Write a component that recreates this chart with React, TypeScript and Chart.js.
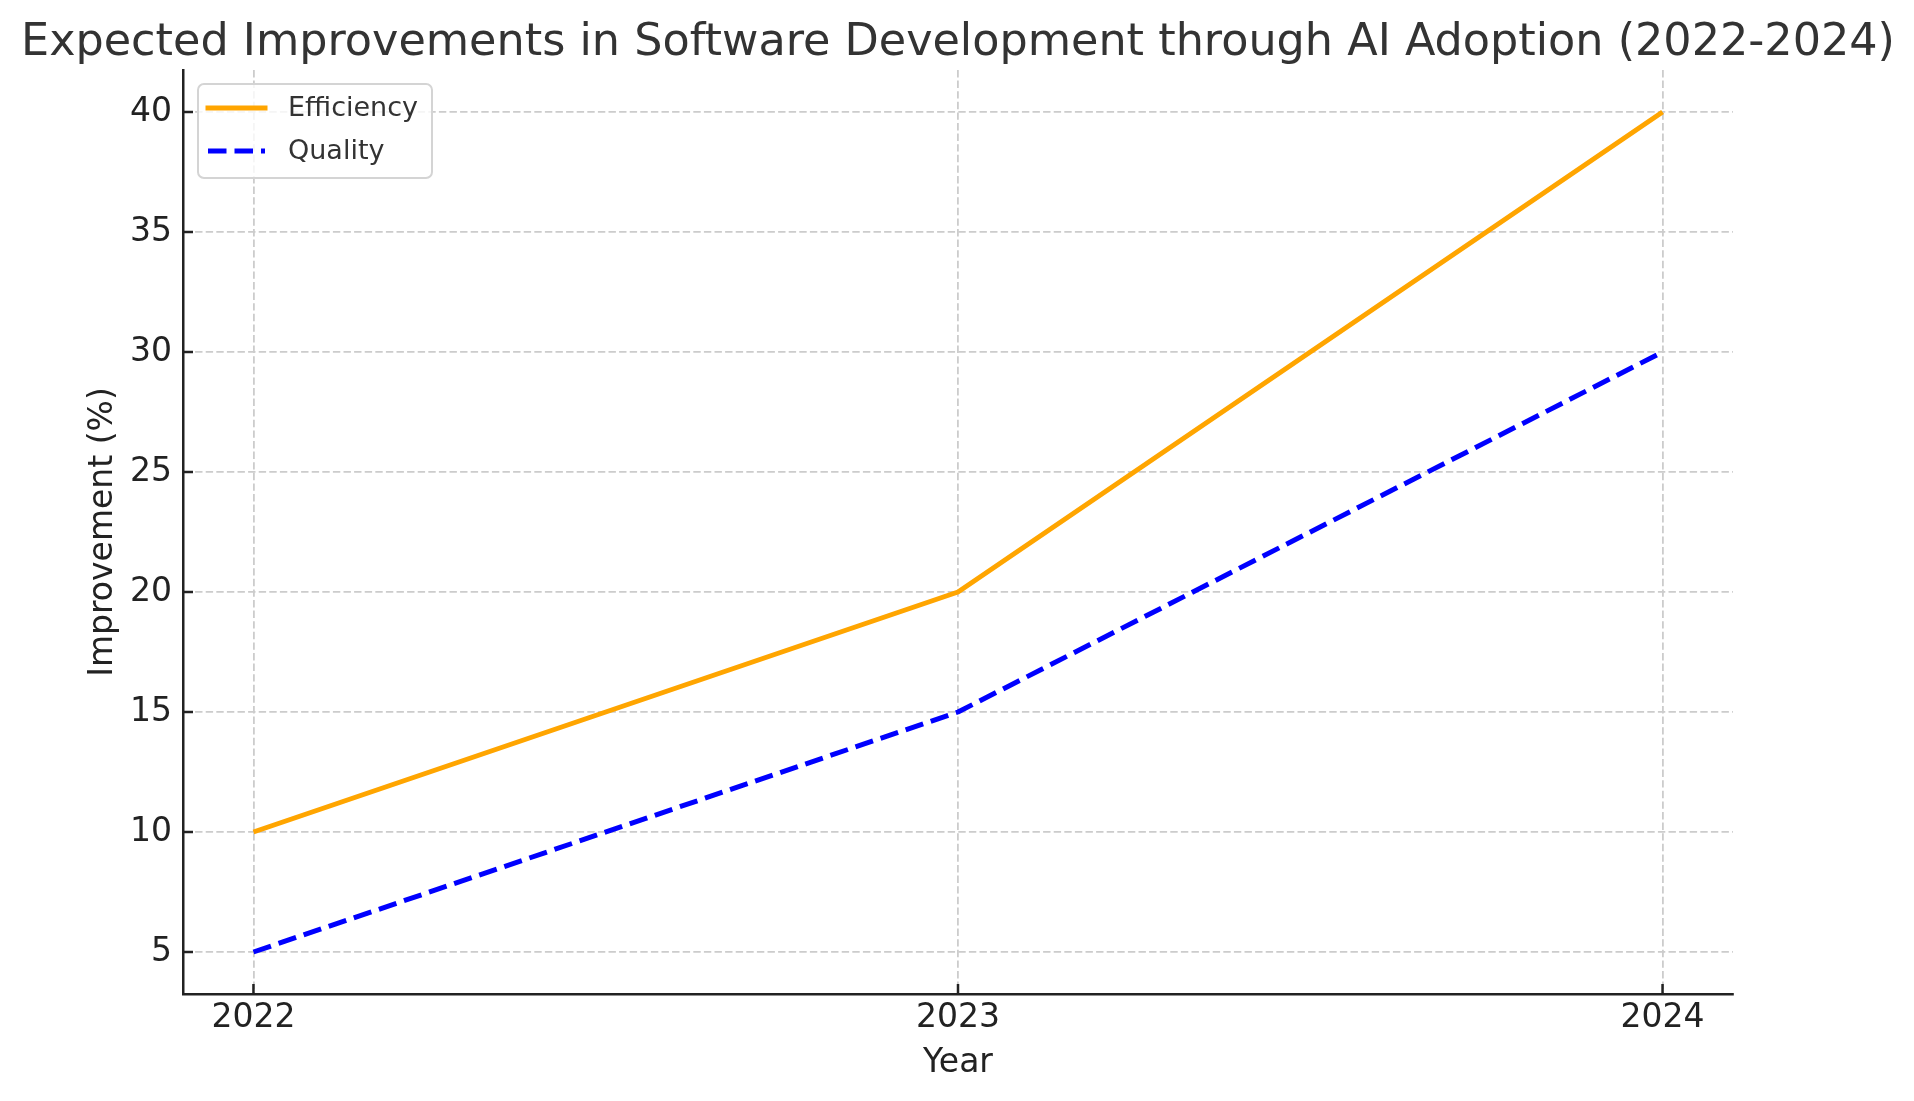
import React, { useEffect, useRef } from "react";
import { Chart, registerables } from "chart.js";

Chart.register(...registerables);

const TITLE = "Expected Improvements in Software Development through AI Adoption (2022-2024)";
const YEARS = [2022, 2023, 2024];
const EFFICIENCY = [10, 20, 40];
const QUALITY = [5, 15, 30];
const Y_TICKS = [5, 10, 15, 20, 25, 30, 35, 40];
const SERIES_LABELS = ["Efficiency", "Quality"];
const X_LABEL = "Year";
const Y_LABEL = "Improvement (%)";

const FONT = "'DejaVu Sans', sans-serif";
const AXIS_COLOR = "#222222";
const GRID_COLOR = "#cccccc";

const W = 1914;
const H = 1101;

function margins(vals: number[]) {
  const lo = Math.min(...vals);
  const hi = Math.max(...vals);
  const pad = (hi - lo) * 0.05;
  return [lo - pad, hi + pad];
}

const overlayPlugin = {
  id: "overlay",
  afterDraw(chart: any) {
    const { ctx, chartArea, scales } = chart;
    const xs = scales.x;
    const ys = scales.y;
    ctx.save();
    // title, centred over the plot area
    ctx.fillStyle = "#333333";
    ctx.font = `44.5px ${FONT}`;
    ctx.textAlign = "center";
    ctx.textBaseline = "middle";
    ctx.fillText(TITLE, (chartArea.left + chartArea.right) / 2, 43);
    // inward tick marks
    ctx.strokeStyle = AXIS_COLOR;
    ctx.lineWidth = 2.5;
    ctx.setLineDash([]);
    ctx.lineCap = "butt";
    for (const v of YEARS) {
      const px = xs.getPixelForValue(v);
      ctx.beginPath();
      ctx.moveTo(px, chartArea.bottom);
      ctx.lineTo(px, chartArea.bottom - 10);
      ctx.stroke();
    }
    for (const v of Y_TICKS) {
      const py = ys.getPixelForValue(v);
      ctx.beginPath();
      ctx.moveTo(chartArea.left, py);
      ctx.lineTo(chartArea.left + 10, py);
      ctx.stroke();
    }
    // legend
    const lx = chartArea.left + 15;
    const ly = chartArea.top + 14;
    const lw = 234;
    const lh = 94;
    ctx.beginPath();
    ctx.roundRect(lx, ly, lw, lh, 6);
    ctx.fillStyle = "rgba(255,255,255,0.8)";
    ctx.fill();
    ctx.strokeStyle = "#d4d4d4";
    ctx.lineWidth = 2;
    ctx.stroke();
    const ds = chart.data.datasets;
    ds.forEach((d: any, i: number) => {
      const yy = ly + 24 + i * 43;
      ctx.beginPath();
      ctx.strokeStyle = d.borderColor;
      ctx.lineWidth = d.borderWidth;
      ctx.setLineDash(d.borderDash || []);
      ctx.lineCap = d.borderDash ? "butt" : "square";
      ctx.moveTo(lx + 10, yy);
      ctx.lineTo(lx + 67, yy);
      ctx.stroke();
      ctx.setLineDash([]);
      ctx.fillStyle = "#333333";
      ctx.font = `27px ${FONT}`;
      ctx.textBaseline = "middle";
      ctx.textAlign = "left";
      ctx.fillText(d.label, lx + 90, yy + 1);
    });
    ctx.restore();
  },
};

export default function App() {
  const ref = useRef<HTMLCanvasElement>(null);

  useEffect(() => {
    document.body.style.margin = "0";
    const canvas = ref.current;
    if (!canvas) return;
    const [xMin, xMax] = margins(YEARS);
    const [yMin, yMax] = margins([...EFFICIENCY, ...QUALITY]);
    const chart = new Chart(canvas, {
      type: "line",
      data: {
        datasets: [
          {
            label: SERIES_LABELS[0],
            data: YEARS.map((x, i) => ({ x, y: EFFICIENCY[i] })),
            borderColor: "#FFA500",
            backgroundColor: "#FFA500",
            borderWidth: 5,
            pointRadius: 0,
            borderJoinStyle: "round",
            tension: 0,
          },
          {
            label: SERIES_LABELS[1],
            data: YEARS.map((x, i) => ({ x, y: QUALITY[i] })),
            borderColor: "#0000FF",
            backgroundColor: "#0000FF",
            borderWidth: 5,
            borderDash: [18.5, 8],
            pointRadius: 0,
            borderJoinStyle: "round",
            tension: 0,
          },
        ],
      },
      options: {
        animation: false,
        responsive: false,
        devicePixelRatio: 1,
        layout: { padding: { left: 0, right: 181, top: 70, bottom: 0 } },
        plugins: {
          legend: { display: false },
          tooltip: { enabled: false },
          title: { display: false },
        },
        scales: {
          x: {
            type: "linear",
            min: xMin,
            max: xMax,
            afterBuildTicks: (s: any) => {
              s.ticks = YEARS.map((v) => ({ value: v }));
            },
            afterFit: (s: any) => {
              s.height = 107;
            },
            ticks: {
              color: AXIS_COLOR,
              font: { family: FONT, size: 33 },
              padding: 4.5,
              maxRotation: 0,
              autoSkip: false,
              callback: (v: any) => String(v),
            },
            grid: {
              color: GRID_COLOR,
              lineWidth: 1.8,
              drawTicks: false,
            },
            border: { display: true, color: AXIS_COLOR, width: 2.5, dash: [7.4, 3.2] },
            title: {
              display: true,
              text: X_LABEL,
              color: AXIS_COLOR,
              font: { family: FONT, size: 33 },
              padding: { top: 0, bottom: 17.5 },
            },
          },
          y: {
            type: "linear",
            min: yMin,
            max: yMax,
            afterBuildTicks: (s: any) => {
              s.ticks = Y_TICKS.map((v) => ({ value: v }));
            },
            afterFit: (s: any) => {
              s.width = 183;
            },
            ticks: {
              color: AXIS_COLOR,
              font: { family: FONT, size: 33 },
              padding: 11,
              autoSkip: false,
              callback: (v: any) => String(v),
            },
            grid: {
              color: GRID_COLOR,
              lineWidth: 1.8,
              drawTicks: false,
            },
            border: { display: true, color: AXIS_COLOR, width: 2.5, dash: [7.4, 3.2] },
            title: {
              display: true,
              text: Y_LABEL,
              color: AXIS_COLOR,
              font: { family: FONT, size: 33 },
              padding: { top: 84, bottom: 0 },
            },
          },
        },
      },
      plugins: [overlayPlugin],
    } as any);
    return () => chart.destroy();
  }, []);

  return (
    <div style={{ position: "absolute", left: 0, top: 0, width: W, height: H, background: "#fff" }}>
      <canvas ref={ref} width={W} height={H} style={{ display: "block", width: W, height: H }} />
    </div>
  );
}
